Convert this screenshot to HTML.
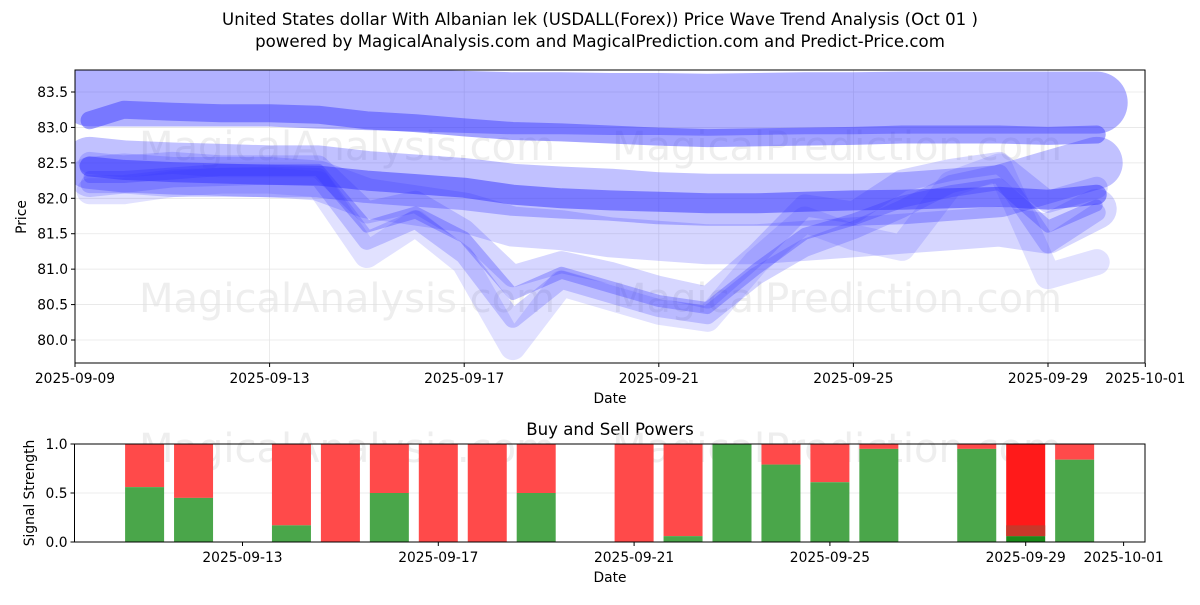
<!DOCTYPE html>
<html><head><meta charset="utf-8">
<style>
body{margin:0;background:#fff;width:1200px;height:600px;overflow:hidden;font-family:"Liberation Sans","DejaVu Sans",sans-serif;}
svg text{font-family:"DejaVu Sans","Liberation Sans",sans-serif;}
</style></head>
<body>
<svg id="c" width="1200" height="600" xmlns="http://www.w3.org/2000/svg">
<text x="600" y="25" font-size="16.6" text-anchor="middle">United States dollar With Albanian lek (USDALL(Forex)) Price Wave Trend Analysis (Oct 01 )</text>
<text x="600" y="47" font-size="16.6" text-anchor="middle">powered by MagicalAnalysis.com and MagicalPrediction.com and Predict-Price.com</text>
<g id="main"></g>
<g id="sub"></g>
</svg>
<script>
const waveDates=["2025-09-09.3","2025-09-10","2025-09-11","2025-09-12","2025-09-13","2025-09-14","2025-09-15","2025-09-16","2025-09-17","2025-09-18","2025-09-19","2025-09-20","2025-09-21","2025-09-22","2025-09-23","2025-09-24","2025-09-25","2025-09-26","2025-09-27","2025-09-28","2025-09-29","2025-09-30"];
const topBand=[83.45,83.45,83.45,83.45,83.45,83.42,83.4,83.38,83.36,83.34,83.34,83.33,83.33,83.32,83.33,83.34,83.34,83.35,83.35,83.35,83.35,83.35];
const upperLine=[83.1,83.25,83.22,83.2,83.2,83.18,83.1,83.06,83.0,82.95,82.93,82.9,82.87,82.85,82.86,82.87,82.88,82.9,82.9,82.9,82.88,82.9];
const midBand=[82.5,82.45,82.42,82.4,82.38,82.38,82.3,82.25,82.2,82.12,82.08,82.05,82.0,81.98,81.98,81.98,81.98,82.0,82.05,82.1,82.3,82.5];
const midCore=[82.45,82.4,82.37,82.35,82.33,82.32,82.25,82.2,82.15,82.05,82.0,81.97,81.95,81.93,81.93,81.95,81.97,81.98,82.0,82.02,81.98,82.05];
const lowBand=[82.3,82.35,82.3,82.3,82.3,82.25,82.0,81.9,81.8,81.6,81.55,81.45,81.4,81.35,81.35,81.4,81.45,81.5,81.55,81.6,81.5,81.85];
const waveA=[82.3,82.3,82.35,82.4,82.4,82.4,81.6,81.8,81.45,80.65,80.95,80.75,80.55,80.45,81.0,81.5,81.7,81.95,82.1,82.2,81.6,81.9];
const waveB=[82.2,82.2,82.28,82.3,82.32,82.3,81.4,81.7,81.2,80.3,80.85,80.65,80.45,80.35,80.9,81.3,81.55,81.85,82.2,82.35,81.35,81.8];
const waveC=[82.1,82.1,82.2,82.25,82.25,82.2,81.2,81.65,81.1,79.9,80.8,80.6,80.4,80.3,81.1,81.7,81.45,81.3,82.2,82.45,80.9,81.1];
const waveD=[82.5,82.45,82.5,82.45,82.45,82.45,81.8,81.95,81.55,80.9,81.1,80.95,80.75,80.6,81.2,81.9,81.8,82.25,82.4,82.5,81.95,82.15];
const priceTicks=[80.0,80.5,81.0,81.5,82.0,82.5,83.0,83.5];
const priceTickLabels=["80.0","80.5","81.0","81.5","82.0","82.5","83.0","83.5"];
const dateTicks=["2025-09-09","2025-09-13","2025-09-17","2025-09-21","2025-09-25","2025-09-29","2025-10-01"];
const barDates=["2025-09-11","2025-09-12","2025-09-14","2025-09-15","2025-09-16","2025-09-17","2025-09-18","2025-09-19","2025-09-21","2025-09-22","2025-09-23","2025-09-24","2025-09-25","2025-09-26","2025-09-28","2025-09-29","2025-09-30"];
const buyPower=[0.56,0.45,0.17,0,0.5,0,0,0.5,0,0.06,1.0,0.79,0.61,0.95,0.95,0.06,0.84];
const subDateTicks=["2025-09-13","2025-09-17","2025-09-21","2025-09-25","2025-09-29","2025-10-01"];
const signalTicks=[0,0.5,1.0];
const signalTickLabels=["0.0","0.5","1.0"];

const NS="http://www.w3.org/2000/svg";
const FS=13.8;
function mk(tag,attrs,parent){const e=document.createElementNS(NS,tag);for(const k in attrs)e.setAttribute(k,attrs[k]);parent.appendChild(e);return e;}
function dayNum(s){const p=s.split("-");const d=parseFloat(p[2]);return (p[1]==="10"?30:0)+d-9;}
const MX0=75,MX1=1145,MY0=70,MY1=363;
const xMain=s=>75+dayNum(s)*48.65;
const yMain=v=>92+(83.5-v)*70.86;
const main=document.getElementById('main');
priceTicks.forEach((t,i)=>{
 const g=mk('line',{x1:MX0,x2:MX1,y1:yMain(t),y2:yMain(t),stroke:'#e6e6e6','stroke-width':0.8},main);
 
 mk('line',{x1:MX0-4,x2:MX0,y1:yMain(t),y2:yMain(t),stroke:'#000'},main);
 const tx=mk('text',{x:MX0-7,y:yMain(t)+5,'font-size':FS,'text-anchor':'end'},main);tx.textContent=priceTickLabels[i];
 
});
dateTicks.forEach(d=>{
 const x=xMain(d);
 mk('line',{x1:x,x2:x,y1:MY0,y2:MY1,stroke:'#e6e6e6','stroke-width':0.8},main);
 mk('line',{x1:x,x2:x,y1:MY1,y2:MY1+4,stroke:'#000'},main);
 const tx=mk('text',{x:x,y:MY1+20,'font-size':FS,'text-anchor':'middle'},main);tx.textContent=d;
 
});
const clip=mk('clipPath',{id:'mclip'},main);mk('rect',{x:MX0,y:MY0,width:MX1-MX0,height:MY1-MY0},clip);
const wm=mk('g',{'font-size':40,fill:'#ddd','fill-opacity':0.5,'text-anchor':'middle'},main);
[[347,160,'MagicalAnalysis.com'],[837,160,'MagicalPrediction.com'],[347,312,'MagicalAnalysis.com'],[837,312,'MagicalPrediction.com']].forEach(w=>{const t=mk('text',{x:w[0],y:w[1]},wm);t.textContent=w[2];});
const wv=mk('g',{'clip-path':'url(#mclip)'},main);
function wave(vals,w,op,name){
 const pts=vals.map((v,i)=>xMain(waveDates[i]).toFixed(1)+","+yMain(v).toFixed(1)).join(" ");
 const p=mk('polyline',{points:pts,fill:'none',stroke:'#3333ff','stroke-width':w,'stroke-opacity':op,'stroke-linejoin':'round','stroke-linecap':'round'},wv);
 
}
wave(topBand,62,0.38,'wave-top-band');
wave(upperLine,18,0.45,'wave-upper-line');
wave(midBand,52,0.3,'wave-mid-band');
wave(lowBand,40,0.2,'wave-low-band');
wave(waveC,26,0.15,'wave-c');
wave(waveD,22,0.2,'wave-d');
wave(waveB,18,0.22,'wave-b');
wave(waveA,12,0.3,'wave-a');
wave(midCore,20,0.5,'wave-mid-core');
mk('rect',{x:MX0,y:MY0,width:MX1-MX0,height:MY1-MY0,fill:'none',stroke:'#000','stroke-width':1},main);
const yl=mk('text',{x:26,y:217,'font-size':FS,'text-anchor':'middle',transform:'rotate(-90 26 217)'},main);yl.textContent='Price';

const xl=mk('text',{x:610,y:403,'font-size':FS,'text-anchor':'middle'},main);xl.textContent='Date';


const SX0=74.5,SX1=1145,SY0=444,SY1=542;
const xSub=s=>46.7+dayNum(s)*48.95;
const ySub=v=>SY1-v*(SY1-SY0);
const sub=document.getElementById('sub');
const st=mk('text',{x:610,y:435,'font-size':16.6,'text-anchor':'middle'},sub);st.textContent='Buy and Sell Powers';

signalTicks.forEach((t,i)=>{
 mk('line',{x1:SX0,x2:SX1,y1:ySub(t),y2:ySub(t),stroke:'#e6e6e6','stroke-width':0.8},sub);
 mk('line',{x1:SX0-4,x2:SX0,y1:ySub(t),y2:ySub(t),stroke:'#000'},sub);
 const tx=mk('text',{x:SX0-7,y:ySub(t)+5,'font-size':FS,'text-anchor':'end'},sub);tx.textContent=signalTickLabels[i];
 
});
const wm2=mk('g',{'font-size':40,fill:'#ddd','fill-opacity':0.5,'text-anchor':'middle'},sub);
[[347,462,'MagicalAnalysis.com'],[837,462,'MagicalPrediction.com']].forEach(w=>{const t=mk('text',{x:w[0],y:w[1]},wm2);t.textContent=w[2];});
barDates.forEach((d,i)=>{
 const cx=xSub(d),bw=39,b=buyPower[i];
 const special=(d==="2025-09-29");
 const r=mk('rect',{x:cx-bw/2,y:SY0,width:bw,height:ySub(b)-SY0,fill:special?'#ff1a1a':'#ff4a4a'},sub);
 
 const g=mk('rect',{x:cx-bw/2,y:ySub(b),width:bw,height:SY1-ySub(b),fill:special?'#1a8a1a':'#4aa64a'},sub);
 
 if(special){mk('rect',{x:cx-bw/2,y:ySub(0.17),width:bw,height:ySub(b)-ySub(0.17),fill:'#c8382a'},sub);}
});
subDateTicks.forEach(d=>{
 const x=xSub(d);
 mk('line',{x1:x,x2:x,y1:SY1,y2:SY1+4,stroke:'#000'},sub);
 const tx=mk('text',{x:x,y:SY1+20,'font-size':FS,'text-anchor':'middle'},sub);tx.textContent=d;
 
});
mk('rect',{x:SX0,y:SY0,width:SX1-SX0,height:SY1-SY0,fill:'none',stroke:'#000','stroke-width':1},sub);
const syl=mk('text',{x:34,y:493,'font-size':FS,'text-anchor':'middle',transform:'rotate(-90 34 493)'},sub);syl.textContent='Signal Strength';

const sxl=mk('text',{x:610,y:582,'font-size':FS,'text-anchor':'middle'},sub);sxl.textContent='Date';

</script>
</body></html>
